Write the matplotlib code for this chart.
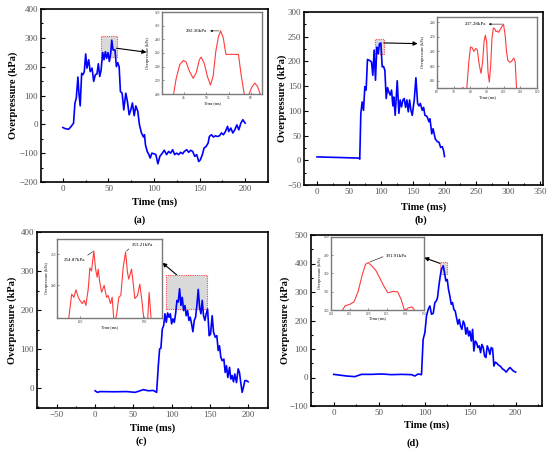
import matplotlib.pyplot as plt
from matplotlib.patches import Rectangle
from matplotlib.ticker import MultipleLocator

plt.rcParams['font.family'] = ['Liberation Serif', 'DejaVu Serif']

# ---------------- data ----------------
# (a)
t_a = [0, 2.6, 6.2, 8.4, 10.3, 11.7, 13.2, 14.7, 16.5, 17.6, 19, 20.6, 22, 23.5, 25, 26.4, 28.3, 30, 32, 33.8,
       35.6, 37.4, 38.9, 40.4, 41.8, 43.7, 45.1, 46.6, 48, 49.5, 51, 52.5, 53.6, 55, 57.2, 58.7, 60.2, 61.7, 63.1, 65,
       66.8, 69, 70.8, 72.7, 74.5, 76.3, 78.2, 80, 82.2, 84, 86.2, 88.4, 89.5, 90.6, 92.5, 94.3, 95.8, 97.6, 99.8, 102,
       104.2, 106.4, 108.6, 111.2, 113.8, 116, 118.2, 120.4, 122.6, 124.8, 127, 129.2, 131.4, 133.2, 135.8, 138, 140.2,
       142.4, 144.6, 146.8, 149, 150.8, 153, 154.9, 157.1, 159.3, 160.7, 163, 165.1, 167.3, 169.5, 171.7, 173.9, 176.1,
       178.3, 180.6, 182, 184.2, 186.4, 188.6, 190.8, 193, 195.2, 197.4, 200]
p_a = [-11, -15, -17, -10, -2, 4, 73, 91, 164, 108, 64, 177, 172, 183, 244, 195, 224, 183, 195, 149,
       172, 175, 210, 166, 185, 249, 224, 252, 229, 249, 218, 247, 292, 258, 258, 200, 214, 200, 114, 108,
       50, 108, 79, 33, 50, 74, 30, 64, 45, -2, -30, -44, -36, -71, -94, -105, -117, -100, -102, -105,
       -137, -111, -102, -90, -105, -94, -100, -88, -105, -100, -105, -97, -102, -94, -88, -97, -90,
       -94, -111, -105, -129, -123, -105, -82, -77, -65, -42, -36, -44, -40, -42, -40, -30, -36,
       -25, -7, -25, -13, -30, -19, -2, -19, 4, 16, 4]
ti_a = [42.2, 42.6, 43.2, 44, 44.8, 45.4, 46.2, 47, 47.7, 48.4, 48.8, 49.5, 50.2, 50.9, 51.5, 52.1, 52.7, 53.2,
        53.8, 54.2, 54.4, 55.9, 57.2, 57.8, 58.5, 59, 59.6, 60.2, 60.9, 61.5, 62.1, 62.3]
pi_a = [185, 200, 223, 243, 249, 247, 233, 223, 231, 250, 254, 245, 226, 213, 226, 262, 284, 292.36,
        282, 265, 258, 258, 258, 228, 200, 184, 200, 210, 216, 211, 200, 192]

# (b)
t_b = [0, 38, 64.5, 66, 67, 68.7, 70.8, 72.9, 75, 77, 79.1, 82.3, 85.4, 87.5, 89.6, 91.7, 93.8, 95.9, 98, 100.1,
       102.2, 104.3, 106.4, 108.5, 110.6, 112.7, 114.8, 116.9, 119, 120.5, 122.6, 125.8, 128.4, 130.5, 132.6,
       134.7, 136.8, 138.9, 141, 143.1, 145.2, 147.3, 149.4, 152.5, 155.1, 157.8, 159.9, 162, 165.1, 167.2,
       169.3, 172.4, 175.6, 177.2, 180, 182, 185.6, 188.7, 191.3, 193.9, 196.5, 198.6, 200]
p_b = [6.8, 5.5, 4.5, 4, 2.3, 94.7, 118, 101, 149, 142, 204, 202, 199, 172, 223, 162, 229, 216, 236, 237.28,
       189, 190, 182, 125, 147, 138, 132, 142, 110, 128, 91, 161, 95, 122, 108,
       122, 125, 107, 122, 98, 122, 101, 91, 122, 167, 115, 110, 115, 101, 107,
       91, 89, 78, 84, 53.5, 63.8, 43, 37.7, 36.6, 26, 27.6, 19, 7.6]
ti_b = [74, 75.5, 77, 77.9, 79.1, 80.1, 81.1, 82.1, 83.2, 84.2, 85.4, 86.4, 87.4, 88.2, 89, 89.8, 90.6, 91.4,
        92.2, 93, 93.8, 94.6, 95.4, 96.2, 97, 97.7, 98.7, 99.9, 100.9, 101.7, 102.5, 103.7, 104.9, 106.1,
        106.9, 107.7, 108.1]
pi_b = [140, 151, 140, 150, 186, 206, 205, 200, 204, 202, 181, 170, 186, 213, 222, 213, 172, 158,
        181, 218, 232, 231, 227, 228, 226, 229, 233, 237.28, 222, 200, 188, 185, 187, 191,
        186, 150, 140]

# (c)
t_c = [0, 3, 6.5, 24, 41.3, 52.2, 58.7, 63, 69.6, 76, 80.4, 82.6, 84.3, 86, 87.8, 89.6, 91.3, 93, 94.8, 96.5,
       98.3, 100, 101.7, 103.5, 105.2, 107, 108.7, 110.4, 112.2, 113.9, 115.7, 117.4, 119.1, 120.9, 122.6,
       124.3, 126.1, 127.8, 129.6, 131.3, 133, 134.8, 136.5, 138.3, 140, 141.7, 143.5, 145.2, 147, 149.1,
       150.9, 153, 154.8, 157, 159.1, 160.9, 162.6, 164.3, 166.1, 168.3, 170, 171.7, 173.5, 175.7, 177.4,
       179.1, 180.9, 182.6, 184.8, 187, 188.7, 190.4, 192.2, 193.9, 195.7, 197.8, 200]
p_c = [-6, -10, -8, -8.5, -8, -10, -6, -3, -6, -5, -10, 58, 101, 103, 152, 161, 191, 169, 193, 182,
       191, 165, 178, 169, 191, 225, 221, 254.87, 212, 233, 199, 212, 186, 199, 174,
       182, 165, 145, 174, 182, 212, 253.21, 208, 191, 225, 186, 174, 191, 203, 135,
       139, 186, 144, 131, 135, 97, 109, 80, 71, 75, 41, 58, 28, 54, 24,
       33, 17, 37, 15, 50, 41, 15, -10, 3, 20, 20, 17]
ti_c = [90.4, 93.1, 94.9, 96.5, 98.3, 99.6, 101.4, 103, 104.3, 106.1, 107.4, 108.7, 110.5, 111.9, 113.1,
        113.9, 115.2, 116.6, 118.6, 120.5, 121.7, 123.6, 124.9, 126.4, 128.3, 130.1, 131.7, 133.5, 135.4,
        136.9, 137.9, 140.1, 141.3, 142.7, 144.8, 146.6, 148.4, 150, 152.6, 153.9, 155.7]
pi_c = [140, 186, 181, 193, 181, 176, 171, 176, 168, 194, 228, 223, 254.87, 226, 213,
        226, 205, 189, 200, 181, 184, 171, 181, 140, 152, 181, 184, 228, 253.21,
        221, 210, 226, 205, 179, 184, 202, 173, 140, 140, 189, 140]

# (d)
t_d = [0, 8.4, 13.9, 23.1, 30.5, 41.5, 52.5, 63.5, 74.5, 85.5, 89.2, 92.8, 96.5, 98.3, 100.2, 102, 103.9, 105.7,
       107.5, 109.4, 111.2, 112.7, 114.1, 115.6, 117.1, 118.5, 120.4, 121.8, 123.3, 124.8, 126.2, 127.7, 129.2,
       130.6, 132.1, 133.6, 135, 136.5, 138, 139.4, 140.9, 142.4, 143.9, 145.3, 146.8, 148.3, 149.7, 151.2,
       152.7, 154.1, 155.6, 157.1, 158.5, 160, 161.5, 162.9, 164.4, 165.9, 167.3, 168.8, 170.3, 171.7, 173.2,
       174.7, 176.1, 177.6, 179.4, 181.3, 183.1, 185.3, 187.5, 189.7, 192, 193.8, 195.6, 197.8, 200]
p_d = [11, 7.6, 5.3, 3, 11, 11, 12.3, 10, 11, 10, 5.3, 12.3, 10, 134, 157, 216, 239, 251,
       222, 225, 263, 268, 280, 321, 356, 380, 391.91, 368, 339, 344, 309, 286, 257,
       263, 239, 233, 210, 187, 204, 181, 169, 198, 187, 152, 175, 146, 163, 128,
       169, 93, 128, 122, 105, 111, 87, 116, 105, 75, 70, 111, 99, 81, 105,
       101, 40, 54, 50, 43, 40, 31, 26, 19, 29, 35, 29, 22, 19]
ti_d = [112.5, 113.8, 115.1, 116.2, 117.3, 118.4, 119.3, 120, 120.9, 122, 123.1, 124.3, 125.3, 126.7,
        127.9, 128.8, 129.9, 130.7, 131.8, 132.8]
pi_d = [336, 344.6, 346.3, 348.9, 360.4, 378.7, 390.2, 391.91, 388.6, 383.7, 375.3, 365.4, 358.9, 360.4,
        359.9, 352.2, 338, 342.3, 343.3, 338]

# zoom windows marked in the main plots (time range, pressure range)
zoom_t = {'a': [42, 59], 'b': [91.7, 104.8], 'c': [92.2, 145.7], 'd': [116.7, 124.8]}
zoom_p = {'a': [235, 307], 'b': [216, 246], 'c': [203.4, 290.6], 'd': [362, 405.3]}

W, H = 550, 453
fig = plt.figure(figsize=(W / 100, H / 100), dpi=100)


def px_axes(left, top, right, bottom):
    # axes placed by pixel box of the reference picture
    return fig.add_axes([left / W, 1 - bottom / H, (right - left) / W, (bottom - top) / H])


def main_panel(rect, t, p, xlim, ylim, xstep, ystep, key, ylab_x, xlab_y, arrow):
    ax = px_axes(*rect)
    bt, bp = zoom_t[key], zoom_p[key]
    ax.add_patch(Rectangle((bt[0], bp[0]), bt[1] - bt[0], bp[1] - bp[0], facecolor='#d9d9d9',
                           edgecolor='#ff4a4a', ls=(0, (1, 1)), lw=0.8, zorder=1))
    ax.plot(t, p, color='#0000ff', lw=1.2, zorder=3)
    ax.annotate('', xy=arrow[1], xytext=arrow[0],
                arrowprops=dict(arrowstyle='-|>', color='black', lw=0.8, mutation_scale=6,
                                shrinkA=0, shrinkB=0), zorder=4)
    ax.set_xlim(xlim)
    ax.set_ylim(ylim)
    ax.xaxis.set_major_locator(MultipleLocator(xstep))
    ax.xaxis.set_minor_locator(MultipleLocator(xstep / 2))
    ax.yaxis.set_major_locator(MultipleLocator(ystep))
    ax.yaxis.set_minor_locator(MultipleLocator(ystep / 2))
    ax.tick_params(which='both', direction='in', width=0.8, labelsize=6.5, labelcolor='#555555', pad=2.2)
    ax.tick_params(which='major', length=3)
    ax.tick_params(which='minor', length=1.6)
    for s in ax.spines.values():
        s.set_linewidth(1.2)
    ax.set_xlabel('Time (ms)', fontsize=7.5, fontweight='bold', va='center')
    ax.set_ylabel('Overpressure (kPa)', fontsize=7.5, fontweight='bold', va='center')
    l, t0, r, b = rect
    ax.xaxis.set_label_coords(0.5, -(xlab_y - b) / (b - t0))
    ax.yaxis.set_label_coords(-(l - ylab_x) / (r - l), 0.5)
    return ax


def inset_panel(rect, t, p, xlim, ylim, xticks, yticks, ylab_x, xlab_y):
    ax = px_axes(*rect)
    ax.plot(t, p, color='#ff3b3b', lw=0.8)
    ax.set_xlim(xlim)
    ax.set_ylim(ylim)
    ax.set_xticks(xticks)
    ax.set_yticks(yticks)
    ax.tick_params(direction='in', length=1.2, width=0.4, labelsize=2.6, pad=1.2, colors='#333333')
    for s in ax.spines.values():
        s.set_color('#7a7a7a')
        s.set_linewidth(1.0)
    ax.set_xlabel('Time (ms)', fontsize=3, va='center')
    ax.set_ylabel('Overpressure (kPa)', fontsize=3, va='center')
    l, t0, r, b = rect
    ax.xaxis.set_label_coords(0.5, -(xlab_y - b) / (b - t0))
    ax.yaxis.set_label_coords(-(l - ylab_x) / (r - l), 0.5)
    return ax


# ---------------- (a) ----------------
main_panel((41, 9, 268, 182), t_a, p_a, (-24, 225), (-200, 400), 50, 100, 'a', 13, 202,
           [(58.7, 264), (91.7, 250)])
ia = inset_panel((162, 12, 262, 94), ti_a, pi_a, (40, 62.5), (200, 320), [45, 50, 55, 60],
                 range(200, 321, 20), 148, 103.5)
ia.annotate('292.36kPa', xy=(53.2, 292.36), xytext=(50.2, 292.36), ha='right', va='center', fontsize=3.6,
            arrowprops=dict(arrowstyle='<|-', color='black', lw=0.4, mutation_scale=3, shrinkA=0, shrinkB=1))
fig.text(140 / W, 1 - 220 / H, '(a)', ha='center', va='center', fontsize=7.5, fontweight='bold')

# ---------------- (b) ----------------
main_panel((304.3, 12, 543.3, 185), t_b, p_b, (-20, 355), (-50, 300), 50, 50, 'b', 282, 206.7,
           [(104.8, 237.4), (157.8, 236)])
ib = inset_panel((437, 17, 537, 88), ti_b, pi_b, (60, 120), (150, 247), range(60, 121, 10),
                 range(160, 241, 20), 423, 96.7)
ib.annotate('237.28kPa', xy=(99.9, 237.28), xytext=(89.4, 237.28), ha='right', va='center', fontsize=3.6,
            arrowprops=dict(arrowstyle='<|-', color='black', lw=0.4, mutation_scale=3, shrinkA=0, shrinkB=1))
fig.text(420.7 / W, 1 - 220 / H, '(b)', ha='center', va='center', fontsize=7.5, fontweight='bold')

# ---------------- (c) ----------------
main_panel((37, 232, 268, 408), t_c, p_c, (-76, 226), (-50, 400), 50, 100, 'c', 12, 428,
           [(106.5, 290.6), (87.8, 321.4)])
ic = inset_panel((57.5, 239, 162, 318), ti_c, pi_c, (82, 164), (148, 274), [100, 150], [200, 250],
                 47, 326.7)
ic.annotate('254.87kPa', xy=(110.5, 254.87), xytext=(95.7, 240.5), ha='center', va='center', fontsize=3.6,
            arrowprops=dict(arrowstyle='-', color='black', lw=0.4, relpos=(0.9, 1.0), shrinkA=0, shrinkB=1))
ic.annotate('253.21kPa', xy=(135.4, 253.21), xytext=(148.5, 263.7), ha='center', va='center', fontsize=3.6,
            arrowprops=dict(arrowstyle='-', color='black', lw=0.4, relpos=(0.0, 0.3), shrinkA=0, shrinkB=1))
fig.text(141.7 / W, 1 - 441 / H, '(c)', ha='center', va='center', fontsize=7.5, fontweight='bold')

# ---------------- (d) ----------------
main_panel((311, 235, 542, 406), t_d, p_d, (-25, 229), (-100, 500), 50, 100, 'd', 285, 425,
           [(116.7, 400.6), (99.4, 420.5)])
idd = inset_panel((331, 237, 424, 310), ti_d, pi_d, (110, 135), (340, 420), range(110, 136, 5),
                  range(340, 421, 20), 320, 318)
idd.annotate('391.91kPa', xy=(120, 391.91), xytext=(127.6, 399.6), ha='center', va='center', fontsize=3.6,
             arrowprops=dict(arrowstyle='-', color='black', lw=0.4, relpos=(0.0, 0.5), shrinkA=0, shrinkB=1))
fig.text(413 / W, 1 - 442.7 / H, '(d)', ha='center', va='center', fontsize=7.5, fontweight='bold')

fig.savefig('out.png', dpi=100)
